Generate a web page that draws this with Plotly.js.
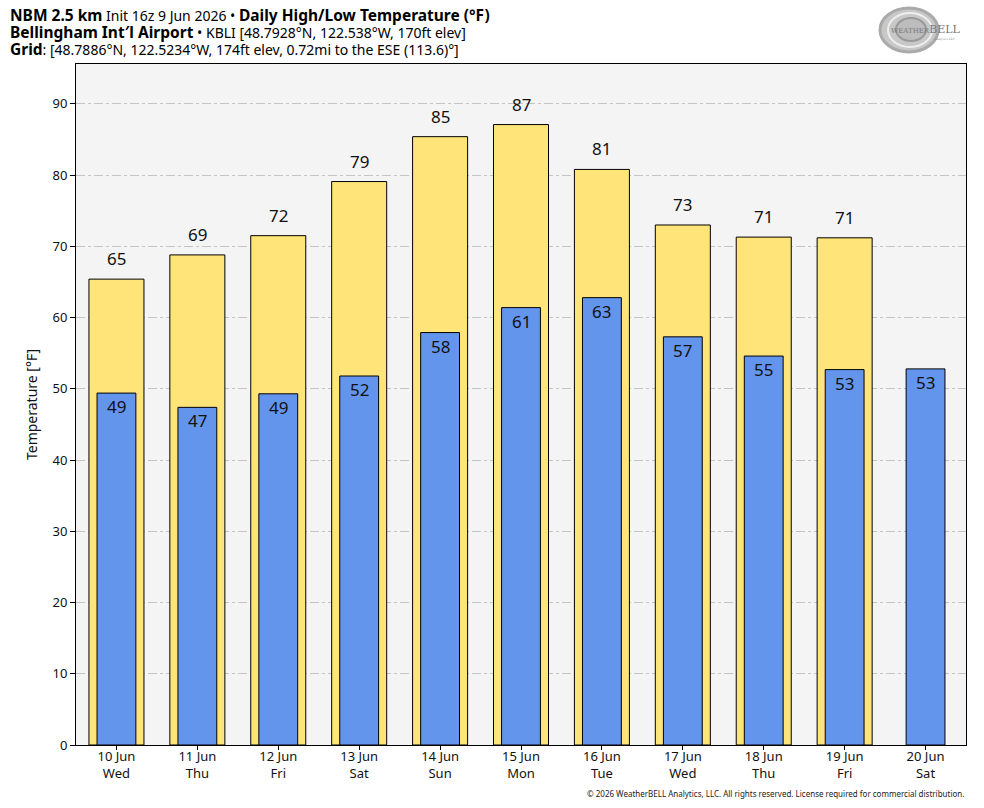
<!DOCTYPE html>
<html><head><meta charset="utf-8">
<script src="https://cdn.plot.ly/plotly-3.0.1.min.js"></script>
<style>html,body{margin:0;padding:0;background:#fff}#c{width:984px;height:808px}</style>
</head><body><div id="c"></div>
<script>
const categories = ["10 Jun<br>Wed","11 Jun<br>Thu","12 Jun<br>Fri","13 Jun<br>Sat","14 Jun<br>Sun","15 Jun<br>Mon","16 Jun<br>Tue","17 Jun<br>Wed","18 Jun<br>Thu","19 Jun<br>Fri","20 Jun<br>Sat"];
const highs = [65.4, 68.8, 71.5, 79.1, 85.4, 87.1, 80.8, 73.0, 71.3, 71.2, null];
const lows  = [49.4, 47.4, 49.3, 51.8, 57.9, 61.4, 62.8, 57.3, 54.6, 52.7, 52.8];
const yTicks = [0,10,20,30,40,50,60,70,80,90];

const F = "Noto Sans, Open Sans, sans-serif";
const xs = categories.map((c,i)=>i);

const traces = [
  {type:'bar', x:xs, y:highs, width:0.68, marker:{color:'#FFE47A', line:{color:'#000', width:1}}, hoverinfo:'y', name:'High'},
  {type:'bar', x:xs, y:lows, width:0.48, marker:{color:'#6495ED', line:{color:'#000', width:1}}, hoverinfo:'y', name:'Low'}
];

const ann = [];
highs.forEach((v,i)=>{ if(v!==null) ann.push({x:i, y:v, xref:'x', yref:'y', text:String(Math.round(v)), showarrow:false, yanchor:'bottom', yshift:7, font:{family:F,size:17,color:'#111'}}); });
lows.forEach((v,i)=>{ ann.push({x:i, y:v, xref:'x', yref:'y', text:String(Math.round(v)), showarrow:false, yanchor:'top', yshift:0, font:{family:F,size:17,color:'#111'}}); });

const B = s => "<b><span style='font-size:15.5px'>" + s + "</span></b>";
const tl = [
  B("NBM 2.5 km") + " Init 16z 9 Jun 2026 • " + B("Daily High/Low Temperature (°F)"),
  B("Bellingham Int′l Airport") + " • KBLI [48.7928°N, 122.538°W, 170ft elev]",
  B("Grid") + ": [48.7886°N, 122.5234°W, 174ft elev, 0.72mi to the ESE (113.6)°]"
];
tl.forEach((t,i)=>ann.push({xref:'paper', yref:'paper', x:(8-76)/890, y:1+ (64-15-17*i)/681, xanchor:'left', yanchor:'middle', text:t, showarrow:false, font:{family:F,size:14,color:'#000'}, align:'left'}));
ann.push({xref:'paper', yref:'paper', x:1.0, y:-(794-745)/681, xanchor:'right', yanchor:'middle', text:"© 2026 WeatherBELL Analytics, LLC. All rights reserved. License required for commercial distribution.", showarrow:false, font:{family:F,size:8,color:'#222'}});
ann.push({xref:'paper', yref:'paper', x:(926-76)/890, y:1+(64-29)/681, xanchor:'center', yanchor:'middle', text:"<span style='font-size:7px'>W</span>EATHER<span style='font-size:11px'>BELL</span>", showarrow:false, font:{family:'DejaVu Serif, serif',size:7,color:'#777'}});
ann.push({xref:'paper', yref:'paper', x:(944-76)/890, y:1+(64-39)/681, xanchor:'center', yanchor:'middle', text:"Analytics LLC", showarrow:false, font:{family:'DejaVu Serif, serif',size:3,color:'#888'}});

function px(x){return (x-76)/890;}
function py(y){return (745-y)/681;}
const shapes = [
  {type:'circle', xref:'paper', yref:'paper', x0:px(880), x1:px(938), y0:py(52), y1:py(8), line:{color:'#aaa', width:3}, fillcolor:'#c8c8c8', layer:'above'},
  {type:'circle', xref:'paper', yref:'paper', x0:px(888), x1:px(932), y0:py(47), y1:py(13), line:{color:'#eee', width:2}, fillcolor:'rgba(0,0,0,0)', layer:'above'},
  {type:'circle', xref:'paper', yref:'paper', x0:px(896), x1:px(926), y0:py(41), y1:py(18), line:{color:'#999', width:2}, fillcolor:'#bdbdbd', layer:'above'}
];

const layout = {
  width:984, height:808,
  margin:{l:76, r:18, t:64, b:63},
  paper_bgcolor:'#fff', plot_bgcolor:'#f4f4f4',
  barmode:'overlay', showlegend:false,
  font:{family:F, size:13, color:'#111'},
  xaxis:{range:[-0.5,10.5], tickmode:'array', tickvals:xs, ticktext:categories, ticks:'outside', ticklen:4, tickcolor:'#000', ticklabelstandoff:-5, showgrid:false, zeroline:false, showline:true, linecolor:'#000', linewidth:1, mirror:true, tickfont:{family:F,size:13,color:'#111'}, fixedrange:true},
  yaxis:{range:[0,95.6], tickmode:'array', tickvals:yTicks, ticks:'outside', ticklen:5, tickcolor:'#000', showgrid:true, gridcolor:'#c4c4c4', griddash:'dashdot', gridwidth:1, zeroline:false, showline:true, linecolor:'#000', linewidth:1, mirror:true, tickfont:{family:F,size:13,color:'#111'}, title:{text:'Temperature [°F]', font:{family:F,size:14,color:'#111'}, standoff:11}},
  annotations:ann, shapes:shapes
};
Plotly.newPlot('c', traces, layout, {displayModeBar:false, staticPlot:true});
</script></body></html>
